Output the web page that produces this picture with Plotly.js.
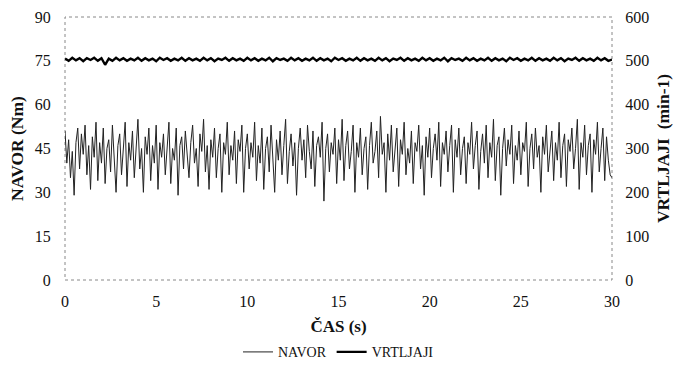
<!DOCTYPE html>
<html>
<head>
<meta charset="utf-8">
<script src="https://cdn.plot.ly/plotly-3.0.1.min.js"></script>
<style>html,body{margin:0;padding:0;background:#fff;}#chart{width:677px;height:374px;}</style>
</head>
<body>
<div id="chart"></div>
<script>
// NAVOR (Nm), sampled every 0.1 s from 0 to 30 s
const navorStep = 0.1;
const navor = [
51,40,48,35,44,29,47,52,38,50,
43,53,36,46,31,49,42,54,34,47,
40,52,33,45,48,37,53,41,30,46,
50,36,44,54,32,47,41,51,35,46,
55,38,45,30,49,43,52,34,46,40,
53,31,47,42,50,36,44,54,33,45,
41,52,29,46,49,38,51,43,35,47,
53,40,45,32,50,44,55,37,46,31,
48,42,52,35,45,50,30,47,43,54,
36,46,41,51,33,48,44,53,30,45,
50,38,47,42,54,34,46,40,52,31,
45,49,37,53,43,30,48,41,51,36,
46,55,33,44,50,39,47,29,45,52,
41,48,35,53,44,38,51,32,46,49,
42,54,27,45,50,37,47,43,52,33,
48,41,55,34,46,51,38,44,53,30,
47,42,52,36,45,49,31,46,54,40,
44,51,35,56,43,47,30,50,41,53,
37,46,52,32,48,43,54,36,45,40,
51,33,47,44,53,38,46,29,49,42,
52,35,45,50,41,54,32,47,43,51,
37,46,53,30,48,42,52,36,45,49,
33,47,43,54,38,46,51,31,44,50,
40,53,35,47,42,55,34,46,49,29,
45,52,39,48,43,53,33,46,41,51,
36,47,44,54,32,45,50,38,52,42,
46,30,49,43,53,37,45,51,34,47,
41,54,35,46,50,32,48,44,52,38,
45,55,31,47,42,53,36,46,50,30,
48,43,54,37,45,52,34,49,41,36,
35
];
// VRTLJAJI (min-1), sampled every 0.2 s from 0 to 30 s
const vrtStep = 0.2;
const vrtljaji = [
505,500,507,501,506,499,506,502,507,500,
506,491,505,500,507,501,506,500,505,501,
507,500,506,501,505,499,507,502,506,500,
505,501,507,500,506,501,505,500,507,501,
506,499,505,502,507,500,506,501,505,500,
507,501,506,500,505,501,507,499,506,502,
505,500,507,501,506,500,505,501,507,500,
506,501,505,499,507,502,506,500,505,501,
507,500,506,501,505,500,507,501,506,499,
505,502,507,500,506,501,505,500,507,501,
506,500,505,501,507,499,506,502,505,500,
507,501,506,500,505,501,507,500,506,501,
505,499,507,502,506,500,505,501,507,500,
506,501,505,500,507,501,506,499,505,502,
507,500,506,501,505,500,507,501,506,500,
503
];
const xTicks = [0,5,10,15,20,25,30];
const leftTicks = [0,15,30,45,60,75,90];
const rightTicks = [0,100,200,300,400,500,600];

const serif = 'Liberation Serif';

const traces = [
  {
    name: 'NAVOR', type: 'scatter', mode: 'lines',
    y: navor, x0: 0, dx: navorStep,
    line: {color: '#222', width: 1},
    yaxis: 'y'
  },
  {
    name: 'VRTLJAJI', type: 'scatter', mode: 'lines',
    y: vrtljaji, x0: 0, dx: vrtStep,
    line: {color: '#000', width: 2.4},
    yaxis: 'y2'
  }
];

const layout = {
  width: 677, height: 374,
  margin: {l: 65, r: 65, t: 17, b: 94},
  paper_bgcolor: '#fff', plot_bgcolor: '#fff',
  font: {family: serif, size: 16, color: '#111'},
  showlegend: true,
  legend: {
    orientation: 'h', x: 0.5, xanchor: 'center',
    yref: 'container', y: 0.058, yanchor: 'middle',
    font: {family: serif, size: 14, color: '#111'},
    itemwidth: 30, tracegroupgap: 0
  },
  xaxis: {
    range: [0, 30], tickvals: xTicks, ticktext: xTicks.map(String),
    automargin: false,
    showgrid: false, zeroline: false, showline: false,
    ticks: 'outside', ticklen: 7, tickcolor: 'rgba(0,0,0,0)',
    tickfont: {family: serif, size: 16},
    title: {text: '<b>ČAS (s)</b>', font: {family: serif, size: 17}, standoff: 11}
  },
  yaxis: {
    range: [0, 90], tickvals: leftTicks, ticktext: leftTicks.map(String),
    automargin: false,
    showgrid: false, zeroline: false, showline: false,
    ticks: 'outside', ticklen: 10, tickcolor: 'rgba(0,0,0,0)',
    tickfont: {family: serif, size: 16},
    title: {text: '<b>NAVOR (Nm)</b>', font: {family: serif, size: 17.5}, standoff: 6}
  },
  yaxis2: {
    range: [0, 600], tickvals: rightTicks, ticktext: rightTicks.map(String),
    overlaying: 'y', side: 'right', automargin: false,
    showgrid: false, zeroline: false, showline: false,
    ticks: 'outside', ticklen: 9, tickcolor: 'rgba(0,0,0,0)',
    tickfont: {family: serif, size: 16},
    title: {text: '<b>VRTLJAJI&nbsp; (min-1)</b>', font: {family: serif, size: 17.5}, standoff: 8}
  },
  shapes: [{
    type: 'rect', xref: 'paper', yref: 'paper', x0: 0, x1: 1, y0: 0, y1: 1,
    line: {color: '#888', width: 1, dash: 'dot'}, layer: 'below'
  }]
};

Plotly.newPlot('chart', traces, layout, {displayModeBar: false, staticPlot: true});
</script>
</body>
</html>
